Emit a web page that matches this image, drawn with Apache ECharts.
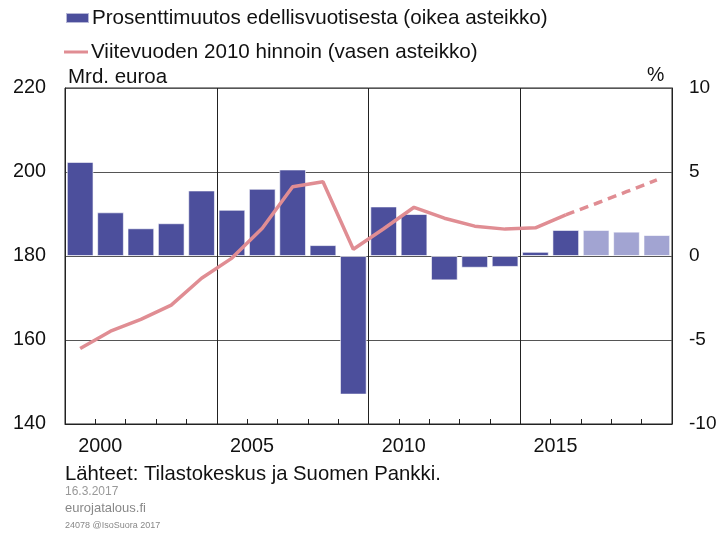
<!DOCTYPE html>
<html><head><meta charset="utf-8">
<script src="https://cdn.jsdelivr.net/npm/echarts@6/dist/echarts.min.js"></script>
<style>html,body{margin:0;padding:0;background:#fff}#c{width:720px;height:536px}</style>
</head><body><div id="c"></div>
<script>
var years = ['2000','2001','2002','2003','2004','2005','2006','2007','2008','2009','2010','2011','2012','2013','2014','2015','2016','2017','2018','2019'];
var growthPct = [5.6, 2.6, 1.65, 1.95, 3.9, 2.75, 4.0, 5.15, 0.65, -8.25, 2.95, 2.5, -1.45, -0.7, -0.65, 0.25, 1.55, 1.55, 1.45, 1.25];
var forecastFrom = 17; // bars from this index are forecasts (lighter)
var gdpBn = [158.0, 162.1, 164.9, 168.3, 174.7, 179.5, 186.6, 196.5, 197.7, 181.6, 186.5, 191.6, 189.0, 187.1, 186.4, 186.7, 189.8, 192.5, 195.3, 198.1];
var lineSolidEnd = 16; // last index of solid line
var leftTicks = [140, 160, 180, 200, 220];
var rightTicks = [-10, -5, 0, 5, 10];
var yearLabelsShown = ['2000','2005','2010','2015'];

var dark = '#4c4f9c', light = '#a2a4d2', pink = '#e08d93';
var FONT = '"Liberation Sans", Arial, sans-serif';

var barData = growthPct.map(function(v, i){
  return {value: v, itemStyle: {color: i >= forecastFrom ? light : dark}};
});
var solid = gdpBn.map(function(v, i){ return i <= lineSolidEnd ? v : null; });
var dashed = gdpBn.map(function(v, i){ return i >= lineSolidEnd ? v : null; });

var chart = echarts.init(document.getElementById('c'), null, {renderer: 'canvas'});
chart.setOption({
  animation: false,
  backgroundColor: '#fff',
  textStyle: {fontFamily: FONT},
  grid: {left: 65, right: 48, top: 88, bottom: 112, show: true, borderColor: '#222', borderWidth: 1, backgroundColor: 'transparent'},
  legend: [{
    left: 65, top: 7, padding: 0, itemWidth: 23, itemHeight: 10,
    icon: 'rect',
    data: [{name: 'Prosenttimuutos edellisvuotisesta (oikea asteikko)', itemStyle: {color: dark}}],
    textStyle: {fontSize: 20.6, lineHeight: 22, color: '#111', fontFamily: FONT, padding: [0,0,0,-2]}
  }, {
    left: 64, top: 41, padding: 0, itemWidth: 24, itemHeight: 3, icon: 'rect',
    data: [{name: 'Viitevuoden 2010 hinnoin (vasen asteikko)', itemStyle: {color: pink}}],
    textStyle: {fontSize: 20.6, lineHeight: 22, color: '#111', fontFamily: FONT, padding: [0,0,0,-2]}
  }],
  xAxis: {
    type: 'category', data: years, boundaryGap: true,
    axisLine: {show: true, onZero: false, lineStyle: {color: '#222', width: 1}},
    axisTick: {show: true, inside: true, length: 5, interval: 0, lineStyle: {color: '#222'}},
    axisLabel: {
      interval: function(i, v){ return yearLabelsShown.indexOf(v) >= 0; },
      fontSize: 19.8, color: '#111', fontFamily: FONT, margin: 13, padding: [0,0,0,40]
    },
    splitLine: {show: true, interval: function(i){ return i === 5 || i === 10 || i === 15; }, lineStyle: {color: '#222', width: 1}}
  },
  yAxis: [{
    type: 'value', min: leftTicks[0], max: leftTicks[leftTicks.length-1], interval: 20, position: 'left',
    axisLine: {show: true, lineStyle: {color: '#222'}}, axisTick: {show: false},
    axisLabel: {fontSize: 19.8, color: '#111', fontFamily: FONT, margin: 19},
    splitLine: {show: true, lineStyle: {color: '#555', width: 1}}
  }, {
    type: 'value', min: rightTicks[0], max: rightTicks[rightTicks.length-1], interval: 5, position: 'right',
    axisLine: {show: true, lineStyle: {color: '#222'}}, axisTick: {show: false},
    axisLabel: {fontSize: 19, color: '#111', fontFamily: FONT, margin: 17, align: 'left'},
    splitLine: {show: false}
  }],
  series: [{
    name: 'Prosenttimuutos edellisvuotisesta (oikea asteikko)', type: 'bar', yAxisIndex: 1,
    data: barData, barCategoryGap: '12%',
    itemStyle: {borderColor: 'rgba(255,255,255,0.6)', borderWidth: 1}
  }, {
    name: 'Viitevuoden 2010 hinnoin (vasen asteikko)', type: 'line', yAxisIndex: 0,
    data: solid, symbol: 'none', lineStyle: {color: pink, width: 3.5}, itemStyle: {color: pink}, z: 5
  }, {
    name: 'Viitevuoden 2010 hinnoin (vasen asteikko)', type: 'line', yAxisIndex: 0,
    data: dashed, symbol: 'none', lineStyle: {color: pink, width: 3.5, type: [9, 6]}, itemStyle: {color: pink}, z: 5
  }],
  graphic: [
    {type: 'text', left: 68, top: 67, style: {text: 'Mrd. euroa', font: '20.5px ' + FONT, fill: '#111'}},
    {type: 'text', left: 647, top: 66, style: {text: '%', font: '19.5px ' + FONT, fill: '#111'}},
    {type: 'text', left: 65, top: 464, style: {text: 'Lähteet: Tilastokeskus ja Suomen Pankki.', font: '20.3px ' + FONT, fill: '#111'}},
    {type: 'text', left: 65, top: 486, style: {text: '16.3.2017', font: '12px ' + FONT, fill: '#999'}},
    {type: 'text', left: 65, top: 502, style: {text: 'eurojatalous.fi', font: '13px ' + FONT, fill: '#888'}},
    {type: 'text', left: 65, top: 521, style: {text: '24078 @IsoSuora 2017', font: '9px ' + FONT, fill: '#888'}}
  ]
});
</script>
</body></html>
